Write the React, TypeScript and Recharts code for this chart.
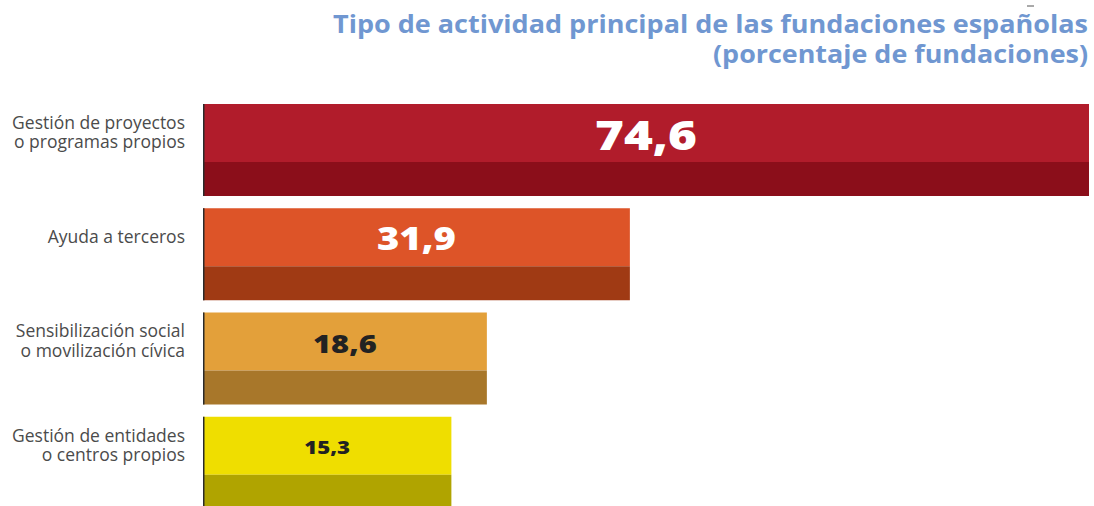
import { Bar, BarChart, XAxis, YAxis } from 'recharts';

// chart values
const CATEGORIES = [
  'Gestión de proyectos\no programas propios',
  'Ayuda a terceros',
  'Sensibilización social\no movilización cívica',
  'Gestión de entidades\no centros propios',
];
const VALUES = [74.6, 31.9, 18.6, 15.3];
const TITLE_LINES = [
  'Tipo de actividad principal de las fundaciones españolas',
  '(porcentaje de fundaciones)',
];

// styling per bar
const TOP_COLORS = ['#b11c2b', '#dd5428', '#e3a03a', '#efde00'];
const BOTTOM_COLORS = ['#8b0e1a', '#a03a14', '#a8772a', '#b0a400'];
const LABEL_COLORS = ['#ffffff', '#ffffff', '#222222', '#222222'];
const LABEL_SIZES = [40, 31, 25, 18];

const data = CATEGORIES.map((name, i) => ({ name, value: VALUES[i] }));

const formatValue = (v: number) => v.toFixed(1).replace('.', ',');

const TOP_PART = 58;

function TwoToneBar(props: any) {
  const { x, y, width, height, index, value, background } = props;
  const left = background && background.x != null ? background.x : x;
  const right = x + width;
  const w = right - left;
  const topH = Math.min(TOP_PART, height);
  const v = Array.isArray(value) ? value[1] : value;
  const fs = LABEL_SIZES[index];
  return (
    <g>
      <rect x={left} y={y} width={w} height={topH} fill={TOP_COLORS[index]} />
      <rect x={left} y={y + topH} width={w} height={height - topH} fill={BOTTOM_COLORS[index]} />
      <line x1={left + 0.75} x2={left + 0.75} y1={y} y2={y + height} stroke="#2a2a2a" strokeWidth={1.5} />
      <text
        x={left + w / 2}
        y={y + topH / 2 + 1}
        textAnchor="middle"
        dominantBaseline="central"
        fill={LABEL_COLORS[index]}
        fontFamily="'Open Sans', sans-serif"
        fontWeight={800}
        fontSize={fs}
        textLength={fs * 2.55}
        lengthAdjust="spacingAndGlyphs"
      >
        {formatValue(v)}
      </text>
    </g>
  );
}

function CategoryTick(props: any) {
  const { y, payload } = props;
  const lines = String(payload.value).split('\n');
  const lh = 19.5;
  const first = y - 11.5 - ((lines.length - 1) * lh) / 2;
  return (
    <text
      x={185}
      y={first}
      textAnchor="end"
      fill="#4b4b4b"
      fontFamily="'Open Sans', sans-serif"
      fontSize={17.5}
    >
      {lines.map((l, i) => (
        <tspan key={i} x={185} y={first + i * lh}>
          {l}
        </tspan>
      ))}
    </text>
  );
}

export default function App() {
  return (
    <div
      style={{
        position: 'absolute',
        left: 0,
        top: 0,
        width: 1094,
        height: 506,
        overflow: 'hidden',
        background: '#ffffff',
      }}
    >
      <svg
        width={1094}
        height={80}
        style={{ position: 'absolute', left: 0, top: 0, pointerEvents: 'none' }}
      >
        <line x1={1027} x2={1034} y1={6} y2={6} stroke="#555" strokeWidth={1} />
        <text
          x={1088}
          y={33}
          textAnchor="end"
          fill="#7097d1"
          fontFamily="'Open Sans', sans-serif"
          fontWeight={700}
          fontSize={25}
          textLength={755}
          lengthAdjust="spacingAndGlyphs"
        >
          {TITLE_LINES[0]}
        </text>
        <text
          x={1088}
          y={63}
          textAnchor="end"
          fill="#7097d1"
          fontFamily="'Open Sans', sans-serif"
          fontWeight={700}
          fontSize={25}
          textLength={375}
          lengthAdjust="spacingAndGlyphs"
        >
          {TITLE_LINES[1]}
        </text>
      </svg>
      <BarChart
        width={1094}
        height={527}
        data={data}
        layout="vertical"
        margin={{ top: 98, right: 5, bottom: 12, left: 0 }}
        barSize={92}
      >
        <XAxis type="number" domain={[-7.8, 74.6]} allowDataOverflow hide />
        <YAxis
          type="category"
          dataKey="name"
          width={203}
          axisLine={false}
          tickLine={false}
          interval={0}
          tick={<CategoryTick />}
        />
        <Bar dataKey="value" isAnimationActive={false} shape={<TwoToneBar />} />
      </BarChart>
    </div>
  );
}
